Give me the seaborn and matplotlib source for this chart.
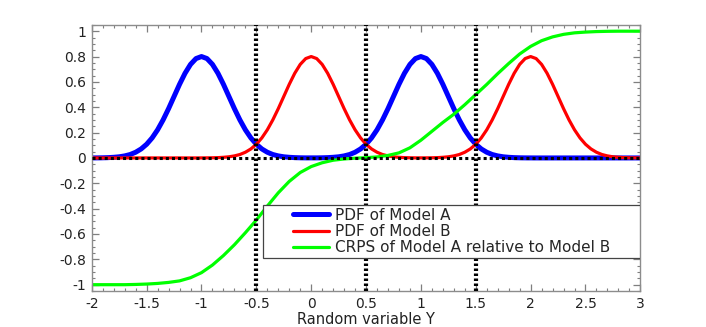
import numpy as np
import pandas as pd
import matplotlib
matplotlib.use("Agg")
import matplotlib.pyplot as plt
from matplotlib.ticker import MultipleLocator
from matplotlib.patches import Rectangle
import seaborn as sns

# ---- data ----
x_pdf = np.round(np.arange(-2.0, 3.0001, 0.05), 2)

pdf_a = [0.0003, 0.0005, 0.0012, 0.0025, 0.005, 0.009, 0.016, 0.027, 0.045, 0.071,
         0.108, 0.158, 0.222, 0.300, 0.389, 0.485, 0.581, 0.668, 0.738, 0.784,
         0.8,
         0.784, 0.738, 0.668, 0.581, 0.485, 0.389, 0.300, 0.222, 0.158, 0.108,
         0.071, 0.045, 0.027, 0.016, 0.009, 0.005, 0.0025, 0.0012, 0.0005, 0.0006,
         0.0005, 0.0012, 0.0025, 0.005, 0.009, 0.016, 0.027, 0.045, 0.071, 0.108,
         0.158, 0.222, 0.300, 0.389, 0.485, 0.581, 0.668, 0.738, 0.784, 0.8,
         0.784, 0.738, 0.668, 0.581, 0.485, 0.389, 0.300, 0.222, 0.158, 0.108,
         0.071, 0.045, 0.027, 0.016, 0.009, 0.005, 0.0025, 0.0012, 0.0005, 0.0003,
         0, 0, 0, 0, 0, 0, 0, 0, 0, 0,
         0, 0, 0, 0, 0, 0, 0, 0, 0, 0]

pdf_b = [0, 0, 0, 0, 0, 0, 0, 0, 0, 0,
         0, 0, 0, 0, 0, 0, 0, 0, 0, 0,
         0.0003,
         0.0005, 0.0012, 0.0025, 0.005, 0.009, 0.016, 0.027, 0.045, 0.071, 0.108,
         0.158, 0.222, 0.300, 0.389, 0.485, 0.581, 0.668, 0.738, 0.784, 0.8,
         0.784, 0.738, 0.668, 0.581, 0.485, 0.389, 0.300, 0.222, 0.158, 0.108,
         0.071, 0.045, 0.027, 0.016, 0.009, 0.005, 0.0025, 0.0012, 0.0005, 0.0006,
         0.0005, 0.0012, 0.0025, 0.005, 0.009, 0.016, 0.027, 0.045, 0.071, 0.108,
         0.158, 0.222, 0.300, 0.389, 0.485, 0.581, 0.668, 0.738, 0.784, 0.8,
         0.784, 0.738, 0.668, 0.581, 0.485, 0.389, 0.300, 0.222, 0.158, 0.108,
         0.071, 0.045, 0.027, 0.016, 0.009, 0.005, 0.0025, 0.0012, 0.0005, 0.0003]

x_crps = np.round(np.arange(-2.0, 3.0001, 0.1), 1)
crps = [-1.0, -1.0, -1.0, -1.0, -0.998, -0.995, -0.99, -0.982, -0.97, -0.945,
        -0.905, -0.845, -0.77, -0.685, -0.59, -0.49, -0.38, -0.275, -0.185, -0.115,
        -0.068, -0.038, -0.018, -0.008, -0.002, 0.002, 0.008, 0.02, 0.04, 0.08,
        0.14, 0.21, 0.28, 0.345, 0.42, 0.50, 0.58, 0.665, 0.745, 0.82,
        0.88, 0.925, 0.955, 0.975, 0.987, 0.993, 0.997, 0.999, 1.0, 1.0, 1.0]

vlines_x = [-0.5, 0.5, 1.5]
labels = ["PDF of Model A", "PDF of Model B", "CRPS of Model A relative to Model B"]

# ---- plotting ----
sns.set_style("ticks")
plt.rcParams["font.family"] = ["DejaVu Sans"]
plt.rcParams["axes.unicode_minus"] = False

fig = plt.figure(figsize=(7.06, 3.27), dpi=100)
ax = fig.add_axes([0.130, 0.110, 0.777, 0.814])

df_pdf = pd.DataFrame({"x": x_pdf, "A": pdf_a, "B": pdf_b})
df_crps = pd.DataFrame({"x": x_crps, "C": crps})

sns.lineplot(data=df_pdf, x="x", y="A", ax=ax, color="#0000ff", lw=3.6, label=labels[0])
sns.lineplot(data=df_pdf, x="x", y="B", ax=ax, color="#ff0000", lw=2.3, label=labels[1])
sns.lineplot(data=df_crps, x="x", y="C", ax=ax, color="#00ff00", lw=2.3, label=labels[2])

for xv in vlines_x:
    ax.axvline(xv, color="black", lw=3, ls=(0, (0.6, 0.6)), zorder=5)
ax.axhline(0, color="black", lw=2.2, ls=(0, (1.0, 1.0)), zorder=5)

ax.set_xlim(-2, 3)
ax.set_ylim(-1.05, 1.05)
ax.xaxis.set_major_locator(MultipleLocator(0.5))
ax.xaxis.set_minor_locator(MultipleLocator(0.1))
ax.yaxis.set_major_locator(MultipleLocator(0.2))
ax.yaxis.set_minor_locator(MultipleLocator(0.05))
ax.set_xticklabels([("%g" % v) for v in ax.get_xticks()])
ax.set_yticklabels([("%g" % round(v, 1)) for v in ax.get_yticks()])

ax.tick_params(which="both", direction="in", top=True, right=True, colors="#7f7f7f",
               labelcolor="#222222", labelsize=10)
ax.tick_params(which="major", length=5, width=0.9, pad=4)
ax.tick_params(which="minor", length=2.5, width=0.8)
for s in ax.spines.values():
    s.set_color("#8c8c8c")
    s.set_linewidth(1.0)
    s.set_visible(True)

ax.set_xlabel("Random variable Y", fontsize=10.5, color="#222222", labelpad=1)
ax.set_ylabel("")

# legend box frame
box = (0.312, 0.124, 0.688, 0.199)
ax.add_patch(Rectangle((box[0], box[1]), box[2], box[3], transform=ax.transAxes,
                       facecolor="white", edgecolor="#444444", lw=0.9, zorder=9))
leg = ax.legend(loc="center", bbox_to_anchor=box, fontsize=11, frameon=False,
                borderaxespad=0, handlelength=2.3, handletextpad=0.4,
                labelspacing=0.08, borderpad=0.0)
leg.set_zorder(10)

fig.savefig("out.png", dpi=100)
